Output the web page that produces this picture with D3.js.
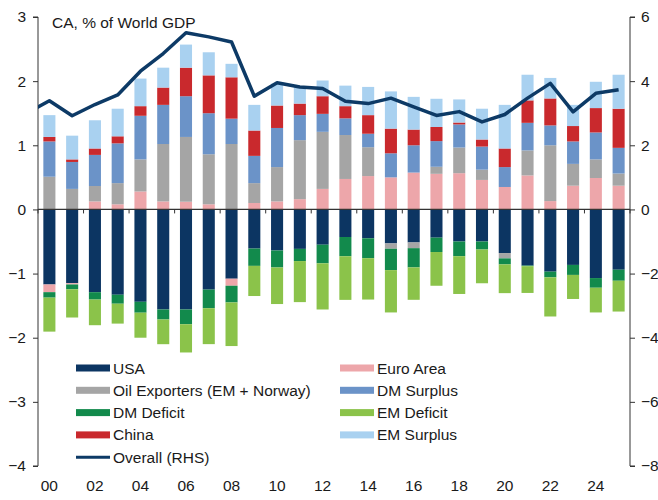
<!DOCTYPE html>
<html><head><meta charset="utf-8">
<script src="https://cdn.jsdelivr.net/npm/d3@7"></script>
<style>
body{margin:0;background:#fff;}
text{font-family:"Liberation Sans",Arial,sans-serif;fill:#1a1a1a;}
</style></head>
<body><svg id="c" width="658" height="500"></svg>
<script>
const years = d3.range(2000, 2026);
const tickLabels = ["00","02","04","06","08","10","12","14","16","18","20","22","24"];
const leftTicks = [-4,-3,-2,-1,0,1,2,3];
const rightTicks = [-8,-6,-4,-2,0,2,4,6];

const usa       = [-1.17,-1.15,-1.29,-1.33,-1.44,-1.56,-1.56,-1.25,-1.08,-0.61,-0.64,-0.615,-0.55,-0.43,-0.45,-0.53,-0.515,-0.44,-0.50,-0.50,-0.68,-0.875,-0.97,-0.865,-1.07,-0.94];
const euroArea  = [-0.12,-0.02,0.125,0.08,0.28,0.125,0.12,0.08,-0.11,0.10,0.125,0.16,0.32,0.475,0.52,0.50,0.575,0.555,0.565,0.46,0.35,0.53,0.13,0.37,0.49,0.37];
const oilExp    = [0.51,0.32,0.24,0.33,0.50,0.895,1.01,0.78,1.02,0.31,0.535,0.92,0.89,0.685,0.45,-0.083,-0.089,0.11,0.40,0.16,-0.083,0.39,0.87,0.34,0.29,0.19];
const dmSurplus = [0.55,0.42,0.485,0.62,0.68,0.61,0.635,0.64,0.395,0.425,0.61,0.39,0.28,0.26,0.21,0.375,0.425,0.40,0.36,0.36,0.31,0.43,0.31,0.35,0.42,0.40];
const dmDeficit = [-0.085,-0.075,-0.115,-0.14,-0.17,-0.156,-0.23,-0.29,-0.26,-0.27,-0.265,-0.19,-0.29,-0.30,-0.31,-0.333,-0.30,-0.224,-0.229,-0.125,-0.094,-0.01,-0.089,-0.156,-0.151,-0.172];
const emDeficit = [-0.53,-0.44,-0.40,-0.31,-0.39,-0.385,-0.44,-0.56,-0.68,-0.47,-0.57,-0.64,-0.72,-0.68,-0.645,-0.66,-0.505,-0.526,-0.589,-0.526,-0.448,-0.417,-0.61,-0.375,-0.385,-0.48];
const china     = [0.07,0.04,0.10,0.11,0.15,0.27,0.445,0.59,0.645,0.395,0.35,0.18,0.275,0.19,0.29,0.385,0.245,0.22,0.03,0.11,0.29,0.35,0.42,0.24,0.38,0.61];
const emSurplus = [0.34,0.37,0.44,0.43,0.43,0.31,0.36,0.36,0.21,0.40,0.34,0.26,0.245,0.32,0.44,0.58,0.51,0.44,0.36,0.48,0.68,0.40,0.32,0.33,0.41,0.53];
// Overall (RHS), 1999..2025 (1999 only shows as the lead-in at the left edge)
const lineYears = d3.range(1999, 2026);
const overall   = [3.0,3.39,2.92,3.27,3.57,4.31,4.86,5.51,5.38,5.22,3.53,3.95,3.82,3.77,3.37,3.30,3.47,3.20,2.93,3.05,2.73,2.96,3.47,3.93,3.04,3.62,3.73];

const seriesDefs = [
  {key:"USA", label:"USA", values:usa, color:"#0c3562"},
  {key:"EA", label:"Euro Area", values:euroArea, color:"#eda6aa"},
  {key:"OIL", label:"Oil Exporters (EM + Norway)", values:oilExp, color:"#a5a5a5"},
  {key:"DMS", label:"DM Surplus", values:dmSurplus, color:"#6b93c8"},
  {key:"DMD", label:"DM Deficit", values:dmDeficit, color:"#128a4c"},
  {key:"EMD", label:"EM Deficit", values:emDeficit, color:"#8bc34a"},
  {key:"CN", label:"China", values:china, color:"#c9292d"},
  {key:"EMS", label:"EM Surplus", values:emSurplus, color:"#a9d1f0"}
];

const table = years.map((y,i)=>{const r={year:y}; seriesDefs.forEach(s=>r[s.key]=s.values[i]); return r;});

const svg = d3.select("#c");
const L = 38, R = 630, T = 17, B = 466;
const x = d3.scaleBand().domain(years).range([L,R]).paddingInner(0.47).paddingOuter(0.235);
const yL = d3.scaleLinear().domain([-4,3]).range([B,T]);
const yR = d3.scaleLinear().domain([-8,6]).range([B,T]);

const stack = d3.stack().keys(seriesDefs.map(s=>s.key)).offset(d3.stackOffsetDiverging);
const stacked = stack(table);

svg.append("g").selectAll("g").data(stacked).join("g")
  .attr("fill",(d,i)=>seriesDefs[i].color)
  .selectAll("rect").data(d=>d).join("rect")
  .attr("x",d=>x(d.data.year))
  .attr("width",x.bandwidth())
  .attr("y",d=>yL(Math.max(d[0],d[1])))
  .attr("height",d=>Math.abs(yL(d[0])-yL(d[1])));

// zero line with ticks
const step = x.step();
svg.append("line").attr("x1",L).attr("x2",R).attr("y1",yL(0)).attr("y2",yL(0))
  .attr("stroke","#333").attr("stroke-width",1.3);
const zt = d3.range(0, years.length+1, 2);
svg.append("g").selectAll("line").data(zt).join("line")
  .attr("x1",i=>L+i*step).attr("x2",i=>L+i*step)
  .attr("y1",yL(0)).attr("y2",yL(0)+4).attr("stroke","#333").attr("stroke-width",1);

// left axis
const gl = svg.append("g").attr("transform",`translate(${L},0)`)
  .call(d3.axisLeft(yL).tickValues(leftTicks).tickSize(5).tickPadding(7).tickFormat(d3.format("d")));
gl.select(".domain").attr("stroke","#333").attr("d",`M-5,${yL(-4)}H0V${yL(3)}H-5`);
gl.selectAll(".tick line").attr("stroke","#333");
gl.selectAll("text").style("font-size","15.5px").attr("fill","#1a1a1a");

// right axis
const gr = svg.append("g").attr("transform",`translate(${R},0)`)
  .call(d3.axisRight(yR).tickValues(rightTicks).tickSize(5).tickPadding(6).tickFormat(d3.format("d")));
gr.select(".domain").attr("stroke","#333").attr("d",`M5,${yR(-8)}H0V${yR(6)}H5`);
gr.selectAll(".tick line").attr("stroke","#333");
gr.selectAll("text").style("font-size","15.5px").attr("fill","#1a1a1a");

// x labels
const evenYears = years.filter((y,i)=>i%2===0);
svg.append("g").selectAll("text").data(evenYears).join("text")
  .attr("x",d=>x(d)+x.bandwidth()/2).attr("y",491)
  .attr("text-anchor","middle").style("font-size","15.5px")
  .text((d,i)=>tickLabels[i]);

// overall line
svg.append("clipPath").attr("id","clip").append("rect")
  .attr("x",L).attr("y",0).attr("width",R-L).attr("height",500);
const xc = yr => x(2000) + x.bandwidth()/2 + (yr-2000)*step;
svg.append("path").datum(lineYears.map((yr,i)=>[yr,overall[i]]))
  .attr("clip-path","url(#clip)")
  .attr("fill","none").attr("stroke","#0d3a66").attr("stroke-width",3.5)
  .attr("stroke-linejoin","round")
  .attr("d",d3.line().x(d=>xc(d[0])).y(d=>yR(d[1])));

// title
svg.append("text").attr("x",52).attr("y",28).style("font-size","15.5px").text("CA, % of World GDP");

// legend
const legendItems = seriesDefs.map(s=>({label:s.label,color:s.color,type:"bar"}));
legendItems.push({label:"Overall (RHS)",color:"#0d3a66",type:"line"});
const lg = svg.append("g");
legendItems.forEach((it,i)=>{
  const col = it.type==="line" ? 0 : i%2;
  const row = it.type==="line" ? 4 : Math.floor(i/2);
  const gx = col===0 ? 76 : 340;
  const gy = 368 + row*22.3;
  if(it.type==="bar"){
    lg.append("rect").attr("x",gx).attr("y",gy-3.5).attr("width",34).attr("height",7).attr("fill",it.color);
  } else {
    lg.append("line").attr("x1",gx).attr("x2",gx+34).attr("y1",gy).attr("y2",gy)
      .attr("stroke",it.color).attr("stroke-width",3);
  }
  lg.append("text").attr("x",gx+37).attr("y",gy).attr("dy","0.36em")
    .style("font-size","15.5px").text(it.label);
});
</script></body></html>
